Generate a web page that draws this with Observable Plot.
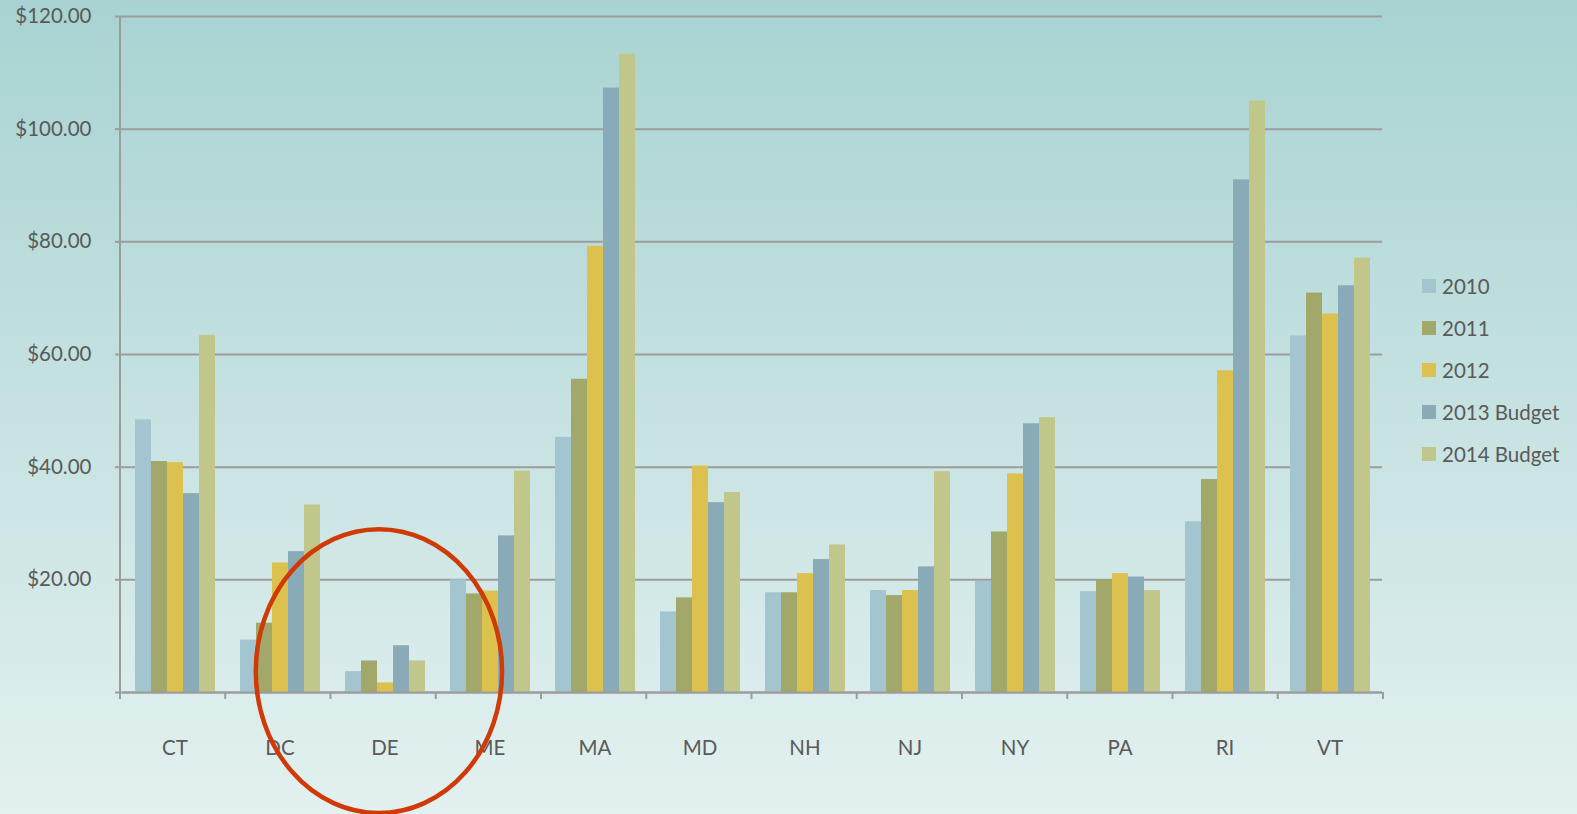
<!DOCTYPE html>
<html><head><meta charset="utf-8">
<script src="https://cdn.jsdelivr.net/npm/d3@7"></script>
<script src="https://cdn.jsdelivr.net/npm/@observablehq/plot@0.6"></script>
<style>
html,body{margin:0;padding:0;width:1577px;height:814px;overflow:hidden;}
body{background:linear-gradient(to bottom,#A8D3D2 0%,#E3F1F0 100%);font-family:Lato,sans-serif;}
#wrap{position:relative;width:1577px;height:814px;}
#legend{position:absolute;left:1422px;top:265px;color:#5A5A5A;font-size:20.5px;font-family:Lato,sans-serif;}
.item{display:flex;align-items:center;height:42px;}
.sw{width:14px;height:14px;margin-right:6px;}
</style></head><body><div id="wrap"></div>
<script>
const states = ["CT","DC","DE","ME","MA","MD","NH","NJ","NY","PA","RI","VT"];
const seriesNames = ["2010","2011","2012","2013 Budget","2014 Budget"];
const v2010 = [48.4, 9.3, 3.7, 20.0, 45.3, 14.3, 17.7, 18.1, 19.7, 17.9, 30.3, 63.3];
const v2011 = [41.0, 12.3, 5.6, 17.5, 55.6, 16.8, 17.7, 17.2, 28.5, 20.0, 37.8, 70.9];
const v2012 = [40.8, 23.0, 1.7, 18.0, 79.2, 40.2, 21.1, 18.1, 38.8, 21.1, 57.1, 67.2];
const v2013 = [35.3, 25.0, 8.3, 27.8, 107.3, 33.7, 23.6, 22.3, 47.7, 20.5, 91.0, 72.2];
const v2014 = [63.4, 33.3, 5.6, 39.3, 113.3, 35.5, 26.2, 39.2, 48.8, 18.1, 105.0, 77.1];
const seriesColors = ["#A3C5CF", "#A1A86A", "#DDC14E", "#89ABB8", "#C1C78B"];
const yTicks = [0, 20, 40, 60, 80, 100, 120];
// highlight annotation (data units: state band + band offset, y value, half-width in bands, half-height in $)
const highlight = {state: "DE", bandOffset: -0.04, value: 3.7, halfBands: 1.17, halfValue: 25.2};

const seriesValues = [v2010, v2011, v2012, v2013, v2014];
const data = states.flatMap((s, i) => seriesNames.map((n, j) => ({state: s, series: n, value: seriesValues[j][i]})));

const gray = "#9C9C9C";
const chart = Plot.plot({
  width: 1577, height: 814,
  marginLeft: 120, marginRight: 194, marginTop: 16, marginBottom: 122,
  style: {background: "transparent", fontFamily: "Lato, sans-serif", fontSize: "20.5px", color: "#5A5A5A", overflow: "visible"},
  fx: {domain: states, padding: 0, label: null},
  x: {domain: seriesNames, paddingInner: 0, paddingOuter: 0.71, axis: null},
  y: {domain: [0, 120], label: null},
  color: {domain: seriesNames, range: seriesColors},
  marks: [
    Plot.gridY(yTicks, {stroke: gray, strokeOpacity: 1, strokeWidth: 2}),
    Plot.barY(data, {fx: "state", x: "series", y: "value", fill: "series"}),
    Plot.ruleY([0], {stroke: gray, strokeWidth: 2}),
    Plot.axisY(yTicks, {tickSize: 7, tickPadding: 24, stroke: gray, strokeWidth: 2, fill: "#5A5A5A", label: null,
      tickFormat: d => d === 0 ? "" : "$" + d.toFixed(2)}),
    Plot.axisFx({anchor: "bottom", tickSize: 0, tickPadding: 48, label: null, fill: "#5A5A5A"})
  ]
});
document.getElementById("wrap").appendChild(chart);

// axis line, category boundary ticks and highlight ellipse, positioned via Plot's scales
const fx = chart.scale("fx"), ys = chart.scale("y");
const fxb = d3.scaleBand().domain(fx.domain).range(fx.range)
  .paddingInner(fx.paddingInner ?? 0).paddingOuter(fx.paddingOuter ?? 0).align(fx.align ?? 0.5);
const yl = d3.scaleLinear().domain(ys.domain).range(ys.range);
const svg = d3.select(chart);
const g = svg.append("g").attr("stroke", gray).attr("stroke-width", 2);
const x0 = fxb(states[0]);
g.append("line").attr("x1", x0).attr("x2", x0).attr("y1", yl(120)).attr("y2", yl(0) + 7);
const bounds = states.map(s => fxb(s)).concat([fxb(states[states.length - 1]) + fxb.bandwidth()]);
bounds.forEach(x => g.append("line").attr("x1", x).attr("x2", x).attr("y1", yl(0)).attr("y2", yl(0) + 7));
svg.append("ellipse")
  .attr("cx", fxb(highlight.state) + fxb.bandwidth() / 2 + highlight.bandOffset * fxb.step())
  .attr("cy", yl(highlight.value))
  .attr("rx", highlight.halfBands * fxb.step())
  .attr("ry", Math.abs(yl(highlight.value + highlight.halfValue) - yl(highlight.value)))
  .attr("fill", "none").attr("stroke", "#D03A07").attr("stroke-width", 4.5);

// legend
const legend = document.createElement("div");
legend.id = "legend";
seriesNames.forEach((n, i) => {
  const it = document.createElement("div"); it.className = "item";
  const sw = document.createElement("span"); sw.className = "sw"; sw.style.background = seriesColors[i];
  const tx = document.createElement("span"); tx.textContent = n;
  it.appendChild(sw); it.appendChild(tx); legend.appendChild(it);
});
document.getElementById("wrap").appendChild(legend);
</script>
</body></html>
